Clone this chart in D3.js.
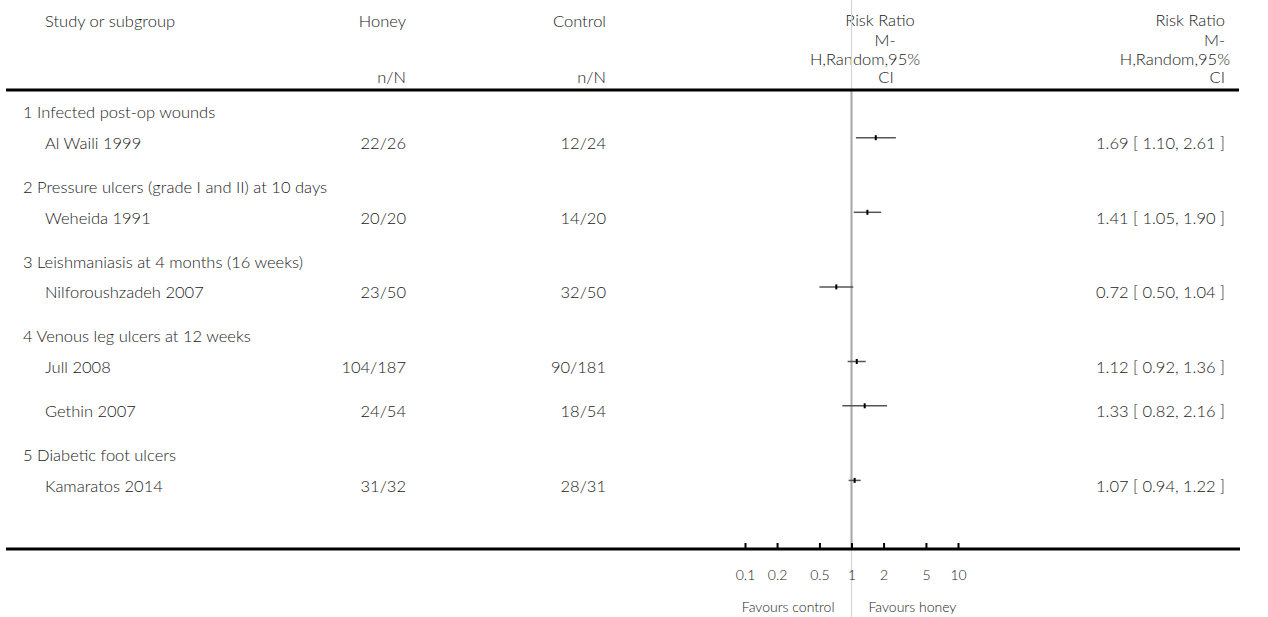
<!DOCTYPE html>
<html>
<head>
<meta charset="utf-8">
<script src="https://cdn.jsdelivr.net/npm/d3@7"></script>
<style>
  body { margin: 0; background: #fff; }
  svg text { font-family: Lato, "Open Sans", sans-serif; font-weight: 300; fill: #1a1a1a; }
</style>
</head>
<body>
<svg id="svg1" width="1268" height="617"></svg>
<script>
// chart values
var subgroups = ["1 Infected post-op wounds",
                 "2 Pressure ulcers (grade I and II) at 10 days",
                 "3 Leishmaniasis at 4 months (16 weeks)",
                 "4 Venous leg ulcers at 12 weeks",
                 "5 Diabetic foot ulcers"];
var studies = ["Al Waili 1999", "Weheida 1991", "Nilforoushzadeh 2007", "Jull 2008", "Gethin 2007", "Kamaratos 2014"];
var studyGroup = [0, 1, 2, 3, 3, 4];
var honey = ["22/26", "20/20", "23/50", "104/187", "24/54", "31/32"];
var control = ["12/24", "14/20", "32/50", "90/181", "18/54", "28/31"];
var rr = [1.69, 1.41, 0.72, 1.12, 1.33, 1.07];
var rrLow = [1.10, 1.05, 0.50, 0.92, 0.82, 0.94];
var rrHigh = [2.61, 1.90, 1.04, 1.36, 2.16, 1.22];
var tickValues = [0.1, 0.2, 0.5, 1, 2, 5, 10];
var tickLabels = ["0.1", "0.2", "0.5", "1", "2", "5", "10"];
var headerLines = ["Risk Ratio", "M-", "H,Random,95%", "CI"];

var width = document.getElementById('svg1').clientWidth;
var height = document.getElementById('svg1').clientHeight;

var svg = d3.select('svg');

// log scale for the forest plot
var x = d3.scaleLog()
    .domain([0.1, 10])
    .range([745, 958]);

// build the row list: heading rows then study rows, with running offsets
var rows = [];
var offset = 0;
subgroups.forEach(function(name, g){
    if (g > 0) offset += 49.4;          // gap from last study to next heading
    rows.push({type: 'heading', label: name, pos: offset});
    offset += 25.2;
    var first = true;
    studies.forEach(function(s, i){
        if (studyGroup[i] !== g) return;
        if (!first) offset += 44.3;
        first = false;
        rows.push({type: 'study', i: i, pos: offset});
    });
});

var y = d3.scaleLinear()
    .domain([0, 1])
    .range([112.5, 113.5]);

// header text
var header = svg.append('g').style('font-size', '16.5px');
header.append('text').attr('x', 45).attr('y', 27).text('Study or subgroup');
header.append('text').attr('x', 406).attr('y', 27).attr('text-anchor', 'end').text('Honey');
header.append('text').attr('x', 406).attr('y', 83).attr('text-anchor', 'end').text('n/N');
header.append('text').attr('x', 606).attr('y', 27).attr('text-anchor', 'end').text('Control');
header.append('text').attr('x', 606).attr('y', 83).attr('text-anchor', 'end').text('n/N');

var midX = [880, 885, 865, 886];
var baseY = [26, 46, 65, 83];
header.selectAll('text.rrmid')
    .data(headerLines)
    .enter()
    .append('text')
    .attr('class', 'rrmid')
    .attr('x', function(d, i){ return midX[i]; })
    .attr('y', function(d, i){ return baseY[i]; })
    .attr('text-anchor', 'middle')
    .text(function(d){ return d; });

header.selectAll('text.rrright')
    .data(headerLines)
    .enter()
    .append('text')
    .attr('class', 'rrright')
    .attr('x', function(d, i){ return i === 2 ? 1230 : 1225; })
    .attr('y', function(d, i){ return baseY[i]; })
    .attr('text-anchor', 'end')
    .text(function(d){ return d; });

// null line (faint above header rule and below axis)
svg.append('line')
    .attr('x1', x(1)).attr('x2', x(1))
    .attr('y1', 0).attr('y2', height)
    .attr('stroke', '#d4d4d4')
    .attr('stroke-width', 1.2);
svg.append('line')
    .attr('x1', x(1)).attr('x2', x(1))
    .attr('y1', 90).attr('y2', 549)
    .attr('stroke', '#a8a8a8')
    .attr('stroke-width', 2);

// horizontal rules
svg.append('line')
    .attr('x1', 6).attr('x2', 1239)
    .attr('y1', 90).attr('y2', 90)
    .attr('stroke', '#000')
    .attr('stroke-width', 3);

// rows
var body = svg.append('g').style('font-size', '16.5px');

body.selectAll('text.heading')
    .data(rows.filter(function(r){ return r.type === 'heading'; }))
    .enter()
    .append('text')
    .attr('class', 'heading')
    .attr('x', 23)
    .attr('y', function(d){ return y(d.pos); })
    .attr('dy', '0.36em')
    .text(function(d){ return d.label; });

var studyRows = body.selectAll('g.study')
    .data(rows.filter(function(r){ return r.type === 'study'; }))
    .enter()
    .append('g')
    .attr('class', 'study');

studyRows.append('text')
    .attr('x', 45)
    .attr('y', function(d){ return y(d.pos) + 5.3; })
    .attr('dy', '0.36em')
    .text(function(d){ return studies[d.i]; });

studyRows.append('text')
    .attr('x', 406)
    .attr('text-anchor', 'end')
    .attr('y', function(d){ return y(d.pos) + 5.3; })
    .attr('dy', '0.36em')
    .text(function(d){ return honey[d.i]; });

studyRows.append('text')
    .attr('x', 606)
    .attr('text-anchor', 'end')
    .attr('y', function(d){ return y(d.pos) + 5.3; })
    .attr('dy', '0.36em')
    .text(function(d){ return control[d.i]; });

studyRows.append('text')
    .attr('x', 1225)
    .attr('text-anchor', 'end')
    .attr('y', function(d){ return y(d.pos) + 5.3; })
    .attr('dy', '0.36em')
    .text(function(d){
        var f = d3.format('.2f');
        return f(rr[d.i]) + ' [ ' + f(rrLow[d.i]) + ', ' + f(rrHigh[d.i]) + ' ]';
    });

// confidence intervals
studyRows.append('line')
    .attr('x1', function(d){ return x(rrLow[d.i]); })
    .attr('x2', function(d){ return x(rrHigh[d.i]); })
    .attr('y1', function(d){ return y(d.pos); })
    .attr('y2', function(d){ return y(d.pos); })
    .attr('stroke', '#555')
    .attr('stroke-width', 1.5);

// point estimate boxes
studyRows.append('rect')
    .attr('x', function(d){ return x(rr[d.i]) - 1; })
    .attr('y', function(d){ return y(d.pos) - 2.5; })
    .attr('width', 2)
    .attr('height', 5)
    .attr('fill', '#000');

// bottom axis
svg.append('line')
    .attr('x1', 6).attr('x2', 1240)
    .attr('y1', 549).attr('y2', 549)
    .attr('stroke', '#000')
    .attr('stroke-width', 3);

var tickAxis = svg.append('g')
    .attr('transform', 'translate(0,549)')
    .call(d3.axisTop(x).tickValues(tickValues).tickSize(6).tickFormat(''));
tickAxis.select('.domain').remove();
tickAxis.selectAll('.tick line').attr('stroke', '#000').attr('stroke-width', 2);

var labelAxis = svg.append('g')
    .attr('transform', 'translate(0,549)')
    .call(d3.axisBottom(x).tickValues(tickValues).tickSize(0).tickPadding(21)
        .tickFormat(function(d, i){ return tickLabels[i]; }));
labelAxis.select('.domain').remove();
labelAxis.selectAll('text')
    .style('font-family', 'Lato, "Open Sans", sans-serif')
    .style('font-weight', '300')
    .style('font-size', '14px')
    .attr('fill', '#1a1a1a');

svg.append('text')
    .attr('x', x(1) - 17).attr('y', 612)
    .attr('text-anchor', 'end')
    .style('font-size', '14px')
    .text('Favours control');
svg.append('text')
    .attr('x', x(1) + 17).attr('y', 612)
    .style('font-size', '14px')
    .text('Favours honey');
</script>
</body>
</html>
